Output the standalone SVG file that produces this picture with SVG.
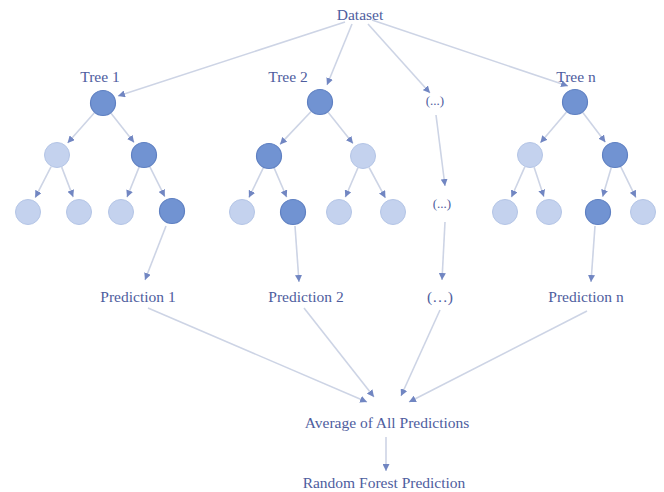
<svg xmlns="http://www.w3.org/2000/svg" width="664" height="492" viewBox="0 0 664 492">
<defs>
<marker id="ah" markerWidth="7" markerHeight="7" refX="7" refY="3.5" orient="auto" markerUnits="userSpaceOnUse">
<path d="M0,0 L7,3.5 L0,7 z" fill="#7186c2"/>
</marker>
<style>
text{font-family:"Liberation Serif","Times New Roman",serif;font-size:15.5px;fill:#4e5d9e;text-anchor:middle}
.sm{font-size:13px}
.d{fill:#7193d2;stroke:#5f80c2;stroke-width:1.2}
.l{fill:#c4d2ee;stroke:#b4c5e6;stroke-width:1}
#edges line{stroke:#cdd4e5;stroke-width:1.6;marker-end:url(#ah)}
</style>
</defs>
<rect width="664" height="492" fill="#fff"/>
<g id="edges">
<line x1="345" y1="22" x2="118" y2="96"/>
<line x1="352" y1="24" x2="327" y2="85"/>
<line x1="368" y1="24" x2="430" y2="93"/>
<line x1="372" y1="20" x2="568" y2="86"/>
<line x1="94.4" y1="112.7" x2="67.6" y2="143"/>
<line x1="111" y1="113.2" x2="134.1" y2="142.4"/>
<line x1="51.1" y1="166.6" x2="35.2" y2="197.7"/>
<line x1="61.7" y1="167.1" x2="73.2" y2="197.1"/>
<line x1="139.1" y1="167.1" x2="127" y2="197.2"/>
<line x1="149.8" y1="166.6" x2="164.8" y2="196.7"/>
<line x1="311.1" y1="111.5" x2="280" y2="144.4"/>
<line x1="328.1" y1="112.2" x2="353" y2="143.5"/>
<line x1="263.4" y1="167.7" x2="248.9" y2="197.6"/>
<line x1="274.1" y1="167.9" x2="286.7" y2="197.3"/>
<line x1="357.9" y1="167.9" x2="345.3" y2="197.3"/>
<line x1="369.1" y1="167.5" x2="385.4" y2="197.9"/>
<line x1="566.6" y1="111.9" x2="540.4" y2="142.8"/>
<line x1="582.8" y1="112.4" x2="605.4" y2="142.2"/>
<line x1="524.8" y1="166.9" x2="511.4" y2="197.3"/>
<line x1="534.1" y1="167.3" x2="543.9" y2="196.8"/>
<line x1="611.3" y1="167.5" x2="602.6" y2="196.7"/>
<line x1="620.7" y1="166.7" x2="635.9" y2="197.6"/>
<line x1="436" y1="115" x2="445" y2="186"/>
<line x1="445" y1="222" x2="442" y2="280"/>
<line x1="166" y1="226" x2="145" y2="280"/>
<line x1="295" y1="226" x2="299" y2="282"/>
<line x1="595" y1="226" x2="591" y2="282"/>
<line x1="148" y1="308" x2="367" y2="402"/>
<line x1="304" y1="308" x2="374" y2="397"/>
<line x1="440" y1="310" x2="401" y2="396"/>
<line x1="587" y1="311" x2="409" y2="402"/>
<line x1="386" y1="437" x2="386" y2="471"/>
</g>
<g id="dataset"><text x="360" y="20">Dataset</text></g>
<g id="tree1">
<text x="100" y="82">Tree 1</text>
<circle class="d" cx="103" cy="103" r="12.5"/>
<circle class="l" cx="57" cy="155" r="12.5"/>
<circle class="d" cx="144" cy="155" r="12.5"/>
<circle class="l" cx="28" cy="212" r="12.5"/>
<circle class="l" cx="79" cy="212" r="12.5"/>
<circle class="l" cx="121" cy="212" r="12.5"/>
<circle class="d" cx="172" cy="211" r="12.5"/>
</g>
<g id="tree2">
<text x="288" y="82">Tree 2</text>
<circle class="d" cx="320" cy="102" r="12.5"/>
<circle class="d" cx="269" cy="156" r="12.5"/>
<circle class="l" cx="363" cy="156" r="12.5"/>
<circle class="l" cx="242" cy="212" r="12.5"/>
<circle class="d" cx="293" cy="212" r="12.5"/>
<circle class="l" cx="339" cy="212" r="12.5"/>
<circle class="l" cx="393" cy="212" r="12.5"/>
</g>
<g id="treen">
<text x="576" y="82">Tree n</text>
<circle class="d" cx="575" cy="102" r="12.5"/>
<circle class="l" cx="530" cy="155" r="12.5"/>
<circle class="d" cx="615" cy="155" r="12.5"/>
<circle class="l" cx="505" cy="212" r="12.5"/>
<circle class="l" cx="549" cy="212" r="12.5"/>
<circle class="d" cx="598" cy="212" r="12.5"/>
<circle class="l" cx="643" cy="212" r="12.5"/>
</g>
<g id="dots1"><text class="sm" x="435" y="105">(...)</text></g>
<g id="dots2"><text class="sm" x="442" y="208">(...)</text></g>
<g id="pred1"><text x="138" y="302">Prediction 1</text></g>
<g id="pred2"><text x="306" y="302">Prediction 2</text></g>
<g id="dots3"><text x="440" y="302">(…)</text></g>
<g id="predn"><text x="586" y="302">Prediction n</text></g>
<g id="average"><text x="387" y="428">Average of All Predictions</text></g>
<g id="rf"><text x="384" y="488">Random Forest Prediction</text></g>
</svg>
